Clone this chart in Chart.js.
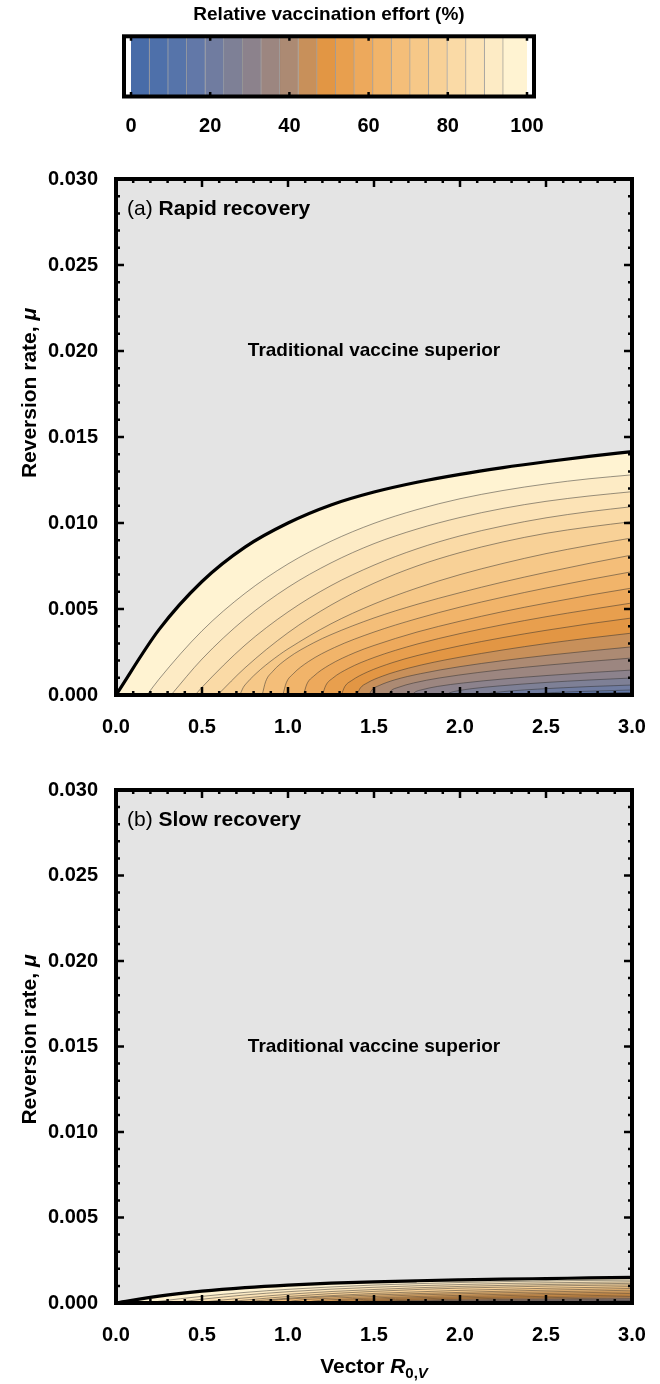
<!DOCTYPE html>
<html>
<head>
<meta charset="utf-8">
<script src="https://cdn.jsdelivr.net/npm/chart.js@4.4.1/dist/chart.umd.min.js"></script>
<style>
  body { margin: 0; background: #fff; }
  canvas { position: absolute; left: 0; }
  #bar { top: 0; }
  #panelA { top: 150px; }
  #panelB { top: 750px; }
</style>
</head>
<body>
<canvas id="bar" width="660" height="140"></canvas>
<canvas id="panelA" width="660" height="600"></canvas>
<canvas id="panelB" width="660" height="634"></canvas>
<script>
// contour levels of relative vaccination effort (%), and the band colours between them
const effortLevels = [0, 4.7, 9.4, 14.1, 18.8, 23.5, 28.2, 32.9, 37.6, 42.3, 47, 51.7, 56.4, 61.1, 65.8, 70.5, 75.2, 79.9, 84.6, 89.3, 94, 100];
const bandColors = [
  "rgb(72,108,168)", "rgb(78,112,170)", "rgb(86,116,170)", "rgb(98,120,168)", "rgb(112,124,160)",
  "rgb(126,128,150)", "rgb(140,130,140)", "rgb(156,134,128)", "rgb(172,138,115)", "rgb(200,144,90)",
  "rgb(226,150,68)", "rgb(232,159,78)", "rgb(237,169,92)", "rgb(241,180,106)", "rgb(244,190,121)",
  "rgb(246,200,136)", "rgb(248,209,151)", "rgb(250,218,166)", "rgb(252,227,182)", "rgb(253,235,197)",
  "rgb(255,243,210)"
];
const barTicks = [0, 20, 40, 60, 80, 100];

// (a) rapid recovery: contour lines as [vector R0, mu] points, outer edge = 100 %
const aEdge = [[0,0],[0.25,0.0038],[0.5,0.0066],[0.75,0.0086],[1,0.0100],[1.25,0.01105],[1.5,0.0118],[1.75,0.01237],[2,0.01283],[2.25,0.01322],[2.5,0.01356],[2.75,0.01387],[3,0.01415]];
const aL20 = [[0.18,0],[0.25,0.00092],[0.5,0.00373],[0.75,0.00591],[1,0.00762],[1.25,0.00894],[1.5,0.00998],[1.75,0.01078],[2,0.01141],[2.25,0.01189],[2.5,0.01227],[2.75,0.01257],[3,0.0128]];
const aL19 = [[0.32,0],[0.5,0.00209],[0.75,0.00443],[1,0.00626],[1.25,0.00768],[1.5,0.0088],[1.75,0.00965],[2,0.01032],[2.25,0.01085],[2.5,0.01126],[2.75,0.01157],[3,0.01182]];
const aL18 = [[0.46,0],[0.5,0.00045],[0.75,0.0029],[1,0.00483],[1.25,0.00636],[1.5,0.00755],[1.75,0.0085],[2,0.00925],[2.25,0.00983],[2.5,0.0103],[2.75,0.01066],[3,0.01095]];
const aL17 = [[0.59,0],[0.75,0.00158],[1,0.00362],[1.25,0.00523],[1.5,0.0065],[1.75,0.0075],[2,0.00828],[2.25,0.0089],[2.5,0.0094],[2.75,0.00977],[3,0.01008]];
const aL16 = [[0.72,0],[0.74,0.00044],[0.76,0.0007],[0.84,0.00148],[0.95,0.00234],[1,0.00268],[1.25,0.00414],[1.5,0.00529],[1.75,0.00622],[2,0.007],[2.25,0.00765],[2.5,0.00822],[2.75,0.0087],[3,0.00913]];
const aL15 = [[0.85,0],[0.87,0.00078],[0.91,0.00136],[1,0.00215],[1.15,0.00304],[1.25,0.00351],[1.5,0.00448],[1.75,0.00527],[2,0.00595],[2.25,0.00657],[2.5,0.00713],[2.75,0.00765],[3,0.00814]];
const aL14 = [[0.97,0],[0.99,0.00071],[1.03,0.00123],[1.12,0.00195],[1.27,0.00276],[1.5,0.00366],[1.75,0.00444],[2,0.00511],[2.25,0.00569],[2.5,0.00622],[2.75,0.00671],[3,0.00717]];
const aL13 = [[1.09,0],[1.11,0.00064],[1.15,0.0011],[1.24,0.00174],[1.39,0.00247],[1.5,0.00288],[1.75,0.00366],[2,0.00429],[2.25,0.00485],[2.5,0.00534],[2.75,0.0058],[3,0.00622]];
const aL12 = [[1.2,0],[1.22,0.00056],[1.26,0.00098],[1.35,0.00154],[1.5,0.00218],[1.75,0.00296],[2,0.00357],[2.25,0.00409],[2.5,0.00455],[2.75,0.00496],[3,0.00535]];
const aL11 = [[1.31,0],[1.33,0.00049],[1.37,0.00084],[1.46,0.00133],[1.61,0.00189],[1.75,0.00229],[2,0.00286],[2.25,0.00334],[2.5,0.00376],[2.75,0.00414],[3,0.00448]];
const aL10 = [[1.4,0],[1.42,0.0004],[1.46,0.0007],[1.55,0.0011],[1.7,0.00156],[1.85,0.00191],[2,0.0022],[2.25,0.00262],[2.5,0.00299],[2.75,0.00331],[3,0.0036]];
const aL9 = [[1.47,0],[1.49,0.00032],[1.53,0.00055],[1.62,0.00088],[1.77,0.00124],[2,0.00165],[2.25,0.002],[2.5,0.0023],[2.75,0.00256],[3,0.0028]];
const aL8 = [[1.58,0],[1.6,0.00026],[1.64,0.00044],[1.73,0.0007],[1.88,0.00099],[2.1,0.0013],[2.25,0.00148],[2.5,0.00173],[2.75,0.00195],[3,0.00215]];
const aL7 = [[1.72,0],[1.74,0.00018],[1.78,0.00031],[1.87,0.0005],[2.02,0.0007],[2.25,0.00093],[2.5,0.00113],[2.75,0.0013],[3,0.00145]];
const aL6 = [[1.92,0],[1.94,0.00013],[1.98,0.00023],[2.07,0.00037],[2.22,0.00052],[2.5,0.00073],[2.75,0.00087],[3,0.00099]];
const aL5 = [[2.15,0],[2.17,0.00009],[2.21,0.00015],[2.3,0.00024],[2.45,0.00034],[2.75,0.00049],[3,0.00058]];
const aL4 = [[2.4,0],[2.42,0.000053],[2.46,0.000092],[2.55,0.000145],[2.7,0.000205],[3,0.00029]];
const aL3 = [[2.58,0],[2.62,0.000046],[2.8,0.00011],[3,0.00015]];
const aL2 = [[2.75,0],[2.8,0.00003],[3,0.00007]];
const aL1 = [[2.88,0],[3,0.00003]];

// (b) slow recovery
const bEdge = [[0,0],[0.25,0.0004],[0.5,0.00069],[0.75,0.0009],[1,0.00105],[1.25,0.00116],[1.5,0.00124],[1.75,0.0013],[2,0.00135],[2.25,0.001395],[2.5,0.00143],[2.75,0.001465],[3,0.0015]];
const bL20 = [[0.18,0],[0.25,0.0001],[0.5,0.00039],[0.75,0.00062],[1,0.0008],[1.25,0.00094],[1.5,0.00105],[1.75,0.00113],[2,0.0012],[2.25,0.00125],[2.5,0.00129],[2.75,0.00132],[3,0.00134]];
const bL19 = [[0.32,0],[0.5,0.00022],[0.75,0.00047],[1,0.00066],[1.25,0.00081],[1.5,0.00092],[1.75,0.00101],[2,0.00108],[2.25,0.00114],[2.5,0.00118],[2.75,0.00121],[3,0.00124]];
const bL18 = [[0.46,0],[0.5,0.00005],[0.75,0.0003],[1,0.00051],[1.25,0.00067],[1.5,0.00079],[1.75,0.00089],[2,0.00097],[2.25,0.00103],[2.5,0.00108],[2.75,0.00112],[3,0.00115]];
const bL17 = [[0.59,0],[0.75,0.00017],[1,0.00038],[1.25,0.00055],[1.5,0.00068],[1.75,0.00079],[2,0.00087],[2.25,0.00093],[2.5,0.00099],[2.75,0.00103],[3,0.00106]];
const bL16 = [[0.72,0],[0.76,0.00007],[0.84,0.00015],[1,0.00028],[1.25,0.00043],[1.5,0.00056],[1.75,0.00065],[2,0.00074],[2.25,0.0008],[2.5,0.00086],[2.75,0.00091],[3,0.00096]];
const bL15 = [[0.85,0],[0.89,0.00012],[1,0.00023],[1.25,0.00037],[1.5,0.00047],[1.75,0.00055],[2,0.00062],[2.25,0.00069],[2.5,0.00075],[2.75,0.0008],[3,0.00085]];
const bL14 = [[0.97,0],[1.03,0.00013],[1.25,0.00028],[1.5,0.00038],[1.75,0.00047],[2,0.00054],[2.25,0.0006],[2.5,0.00065],[2.75,0.0007],[3,0.00075]];
const bL13 = [[1.09,0],[1.15,0.00012],[1.25,0.00019],[1.5,0.0003],[1.75,0.00038],[2,0.00045],[2.25,0.00051],[2.5,0.00056],[2.75,0.00061],[3,0.00065]];
const bL12 = [[1.2,0],[1.26,0.0001],[1.5,0.00023],[1.75,0.00031],[2,0.00037],[2.25,0.00043],[2.5,0.00048],[2.75,0.00052],[3,0.00056]];
const bL11 = [[1.31,0],[1.37,0.00009],[1.5,0.00016],[1.75,0.00024],[2,0.0003],[2.25,0.00035],[2.5,0.00039],[2.75,0.00043],[3,0.00047]];
const bL10 = [[1.4,0],[1.46,0.00007],[1.7,0.00016],[2,0.00023],[2.25,0.00028],[2.5,0.00031],[2.75,0.00035],[3,0.00038]];
const bL9 = [[1.47,0],[1.53,0.00006],[1.77,0.00013],[2,0.00017],[2.25,0.00021],[2.5,0.00024],[2.75,0.00027],[3,0.00029]];
const bL8 = [[1.58,0],[1.64,0.00005],[1.88,0.0001],[2.25,0.000155],[2.5,0.00018],[2.75,0.000205],[3,0.00023]];
const bL7 = [[1.72,0],[1.78,0.000033],[2.02,0.000074],[2.5,0.00012],[3,0.00015]];
const bL6 = [[1.92,0],[1.98,0.000024],[2.22,0.000055],[2.5,0.000077],[3,0.0001]];
const bL5 = [[2.15,0],[2.21,0.000016],[2.45,0.000036],[3,0.00006]];
const bL4 = [[2.4,0],[2.46,0.00001],[2.7,0.000022],[3,0.00003]];
const bL3 = [[2.58,0],[3,0.000016]];
const bL2 = [[2.75,0],[3,0.000007]];
const bL1 = [[2.88,0],[3,0.000003]];

const aLines = [aL1, aL2, aL3, aL4, aL5, aL6, aL7, aL8, aL9, aL10, aL11, aL12, aL13, aL14, aL15, aL16, aL17, aL18, aL19, aL20];
const bLines = [bL1, bL2, bL3, bL4, bL5, bL6, bL7, bL8, bL9, bL10, bL11, bL12, bL13, bL14, bL15, bL16, bL17, bL18, bL19, bL20];

const FONT = "'Liberation Sans', Arial, Helvetica, sans-serif";
const tickFont = { family: FONT, weight: "bold", size: 20 };

// colour bar frame + little ticks
const barFrame = {
  id: "barFrame",
  afterDatasetsDraw(chart) {
    const { ctx, chartArea: ca, scales: { x } } = chart;
    ctx.save();
    ctx.strokeStyle = "#000";
    ctx.lineWidth = 2.5;
    barTicks.forEach((v) => {
      const px = x.getPixelForValue(v);
      ctx.beginPath();
      ctx.moveTo(px, ca.top); ctx.lineTo(px, ca.top + 3);
      ctx.moveTo(px, ca.bottom); ctx.lineTo(px, ca.bottom - 3);
      ctx.stroke();
    });
    ctx.lineWidth = 4;
    ctx.strokeRect(ca.left - 7, ca.top - 1.5, ca.width + 14, ca.height + 3);
    ctx.restore();
  },
};

new Chart(document.getElementById("bar"), {
  type: "bar",
  data: {
    labels: ["effort"],
    datasets: bandColors.map((c, i) => ({
      data: [[effortLevels[i], effortLevels[i + 1]]],
      backgroundColor: c,
      borderColor: "rgba(50,50,50,0.45)",
      borderWidth: { left: 0, top: 0, bottom: 0, right: i < bandColors.length - 1 ? 1 : 0 },
      borderSkipped: false,
    })),
  },
  options: {
    responsive: false,
    animation: false,
    indexAxis: "y",
    layout: { padding: { left: 131, right: 133, top: 0, bottom: 0 } },
    datasets: { bar: { grouped: false, barPercentage: 1, categoryPercentage: 1 } },
    plugins: {
      legend: { display: false },
      tooltip: { enabled: false },
      title: {
        display: true,
        text: "Relative vaccination effort (%)",
        font: { family: FONT, weight: "bold", size: 19 },
        color: "#000",
        padding: { top: 3, bottom: 12 },
      },
    },
    scales: {
      y: { display: false },
      x: {
        min: 0, max: 100,
        ticks: { stepSize: 20, font: tickFont, color: "#000", padding: 11, maxRotation: 0 },
        grid: { display: false },
        border: { display: false },
        afterFit(s) { s.height = 45; },
      },
    },
  },
  plugins: [barFrame],
});

// grey background, thick frame, inward ticks on all sides, in-panel text
const decor = {
  id: "decor",
  beforeDatasetsDraw(chart) {
    const { ctx, chartArea: ca } = chart;
    ctx.save();
    ctx.fillStyle = "#e4e4e4";
    ctx.fillRect(ca.left, ca.top, ca.width, ca.height);
    ctx.restore();
  },
  afterDatasetsDraw(chart, args, opts) {
    const { ctx, chartArea: ca, scales: { x, y } } = chart;
    ctx.save();
    ctx.strokeStyle = "#000";
    ctx.lineWidth = 2.5;
    ctx.beginPath();
    for (let i = 0; i <= 30; i++) {
      const px = x.getPixelForValue(i / 10);
      const len = i % 5 === 0 ? 8 : 4;
      ctx.moveTo(px, ca.bottom); ctx.lineTo(px, ca.bottom - len);
      ctx.moveTo(px, ca.top); ctx.lineTo(px, ca.top + len);
      const py = y.getPixelForValue(i / 1000);
      ctx.moveTo(ca.left, py); ctx.lineTo(ca.left + len, py);
      ctx.moveTo(ca.right, py); ctx.lineTo(ca.right - len, py);
    }
    ctx.stroke();
    ctx.lineWidth = 4;
    ctx.strokeRect(ca.left, ca.top, ca.width, ca.height);

    // panel tag
    ctx.fillStyle = "#000";
    ctx.textBaseline = "alphabetic";
    ctx.textAlign = "left";
    ctx.font = "21px " + FONT;
    const tag = opts.tag + " ";
    ctx.fillText(tag, ca.left + 11, ca.top + 36);
    const tw = ctx.measureText(tag).width;
    ctx.font = "bold 21px " + FONT;
    ctx.fillText(opts.name, ca.left + 11 + tw, ca.top + 36);

    // region note
    ctx.font = "bold 19px " + FONT;
    ctx.textAlign = "center";
    ctx.textBaseline = "middle";
    ctx.fillText("Traditional vaccine superior", x.getPixelForValue(opts.note[0]), y.getPixelForValue(opts.note[1]));

    // y title, rotated, with italic mu
    const t1 = "Reversion rate, ";
    const t2 = "\u03bc";
    ctx.font = "bold 21px " + FONT;
    const w1 = ctx.measureText(t1).width;
    ctx.font = "italic bold 21px " + FONT;
    const w2 = ctx.measureText(t2).width;
    ctx.translate(30, (ca.top + ca.bottom) / 2 + opts.titleShift);
    ctx.rotate(-Math.PI / 2);
    ctx.textAlign = "left";
    ctx.font = "bold 21px " + FONT;
    ctx.fillText(t1, -(w1 + w2) / 2, 0);
    ctx.font = "italic bold 21px " + FONT;
    ctx.fillText(t2, -(w1 + w2) / 2 + w1, 0);
    ctx.setTransform(1, 0, 0, 1, 0, 0);

    // x title, with subscript
    if (opts.xTitle) {
      const parts = [
        ["Vector ", "bold 21px", 0],
        ["R", "italic bold 21px", 0],
        ["0,", "bold 15px", 5],
        ["V", "italic bold 15px", 5],
      ];
      let total = 0;
      parts.forEach((p) => { ctx.font = p[1] + " " + FONT; total += ctx.measureText(p[0]).width; });
      let cx = (ca.left + ca.right) / 2 - total / 2;
      const base = ca.bottom + 70;
      ctx.textAlign = "left";
      ctx.textBaseline = "alphabetic";
      parts.forEach((p) => {
        ctx.font = p[1] + " " + FONT;
        ctx.fillText(p[0], cx, base + p[2]);
        cx += ctx.measureText(p[0]).width;
      });
    }
    ctx.restore();
  },
};

function contourSets(edge, lines) {
  const sets = [{ data: edge, fill: false, borderColor: "#000", borderWidth: 3.2, order: 0 }];
  lines.forEach((pts, i) => {
    sets.push({ data: pts, fill: "start", backgroundColor: bandColors[i], borderColor: "rgba(45,45,45,0.55)", borderWidth: 0.9, order: 1 });
  });
  sets.push({ data: edge, fill: "start", backgroundColor: bandColors[bandColors.length - 1], borderWidth: 0, order: 1 });
  return sets;
}

function panel(id, edge, lines, padTop, xHeight, opts) {
  new Chart(document.getElementById(id), {
    type: "line",
    data: { datasets: contourSets(edge, lines) },
    options: {
      responsive: false,
      animation: false,
      layout: { padding: { left: 0, right: 28, top: padTop, bottom: 0 } },
      elements: {
        point: { radius: 0 },
        line: { cubicInterpolationMode: "monotone" },
      },
      plugins: { legend: { display: false }, tooltip: { enabled: false }, decor: opts },
      scales: {
        x: {
          type: "linear", min: 0, max: 3,
          ticks: { stepSize: 0.5, callback: (v) => v.toFixed(1), font: tickFont, color: "#000", padding: 12, maxRotation: 0, autoSkip: false },
          grid: { display: false },
          border: { display: false },
          afterFit(s) { s.height = xHeight; },
        },
        y: {
          type: "linear", min: 0, max: 0.03,
          ticks: { stepSize: 0.005, callback: (v) => v.toFixed(3), font: tickFont, color: "#000", padding: 10, autoSkip: false },
          grid: { display: false },
          border: { display: false },
          afterFit(s) { s.width = 116; },
        },
      },
    },
    plugins: [decor],
  });
}

panel("panelA", aEdge, aLines, 29, 55, { tag: "(a)", name: "Rapid recovery", note: [1.5, 0.02], titleShift: -44, xTitle: false });
panel("panelB", bEdge, bLines, 40, 81, { tag: "(b)", name: "Slow recovery", note: [1.5, 0.015], titleShift: -7, xTitle: true });
</script>
</body>
</html>
